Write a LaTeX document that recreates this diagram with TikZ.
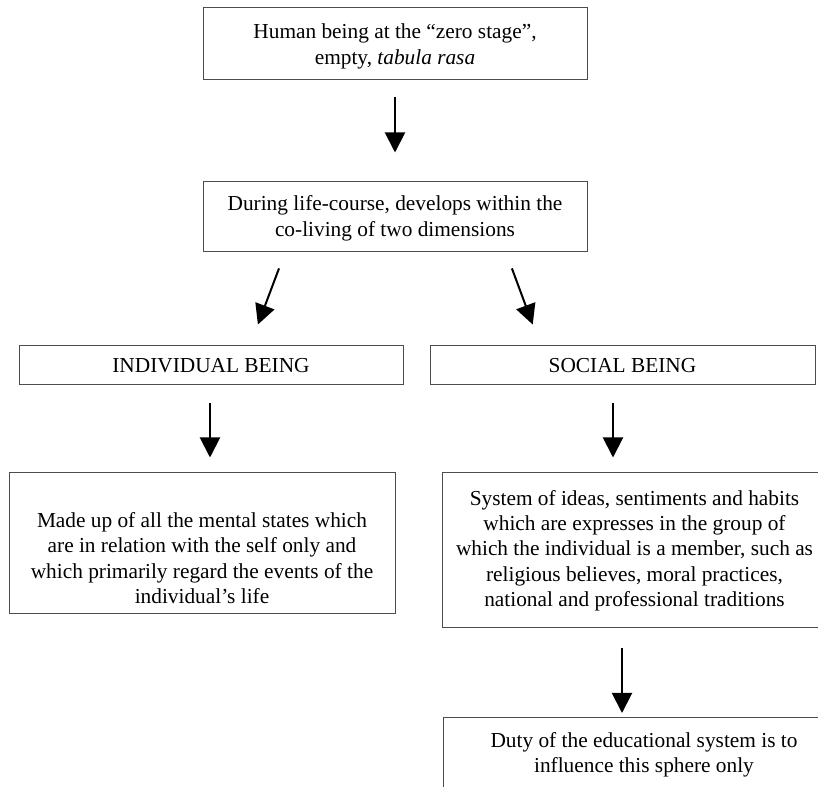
\documentclass[tikz,border=0pt]{standalone}
\usepackage{fontspec}
\setmainfont{Liberation Serif}
\usetikzlibrary{arrows.meta,calc}

\begin{document}
\begin{tikzpicture}[x=0.75pt,y=-0.75pt,
    box/.style={draw=black!70, line width=0.75pt, align=center, inner sep=0pt, font=\fontsize{16pt}{19pt}\selectfont},
    arr/.style={line width=1.5pt, -{Triangle[width=15pt,length=15pt]}}]
    	\useasboundingbox (0,0) rectangle (818,787);
    	\clip (0,0) rectangle (818,787);
    	\node[box, minimum width=288pt, minimum height=54pt] (zero) at (395,44) {\rule{0pt}{14.8pt}Human being at the “zero stage”,\\ empty, \textit{tabula rasa}};
    	\node[box, minimum width=288pt, minimum height=52.5pt] (life) at (395,217) {\rule{0pt}{13.3pt}During life-course, develops within the\\ co-living of two dimensions};
    	\node[box, minimum width=288pt, minimum height=29.25pt] (indiv) at (211,365.5) {INDIVIDUAL BEING};
    	\node[box, minimum width=288.75pt, minimum height=29.25pt] (social) at (622.5,365.5) {SOCIAL BEING};
    	\node[box, minimum width=289.5pt, minimum height=105.75pt] (madeup) at (202,543.5) {\rule{0pt}{33.2pt}Made up of all the mental states which\\ are in relation with the self only and\\ which primarily regard the events of the\\ individual’s life};
    	\node[box, minimum width=288.75pt, minimum height=116.25pt] (system) at (634.5,550.5) {System of ideas, sentiments and habits\\ which are expresses in the group of\\ which the individual is a member, such as\\ religious believes, moral practices,\\ national and professional traditions};
    	\node[box, inner ysep=11pt, minimum width=301.5pt, anchor=north] (duty) at (644,717) {Duty of the educational system is to\\ influence this sphere only\\ \mbox{}\\ \mbox{}};
    	\draw[arr, shorten <=12.75pt, shorten >=21.75pt] (zero) -- (life);
    	\draw[arr, shorten <=12.75pt, shorten >=16.8pt] ($(life.south)+(-110,0)$) -- ($(indiv.north)+(39,0)$);
    	\draw[arr, shorten <=12.75pt, shorten >=16.8pt] ($(life.south)+(111,0)$) -- ($(social.north)+(-82,0)$);
    	\draw[arr, shorten <=13.5pt, shorten >=11.25pt] ($(indiv.south)+(-1,0)$) -- ($(madeup.north)+(8,0)$);
    	\draw[arr, shorten <=13.5pt, shorten >=11.25pt] ($(social.south)+(-9.5,0)$) -- ($(system.north)+(-21.5,0)$);
    	\draw[arr, shorten <=15pt, shorten >=3pt] ($(system.south)+(-12.5,0)$) -- ($(duty.north)+(-22,0)$);
    	\end{tikzpicture}
\end{document}
